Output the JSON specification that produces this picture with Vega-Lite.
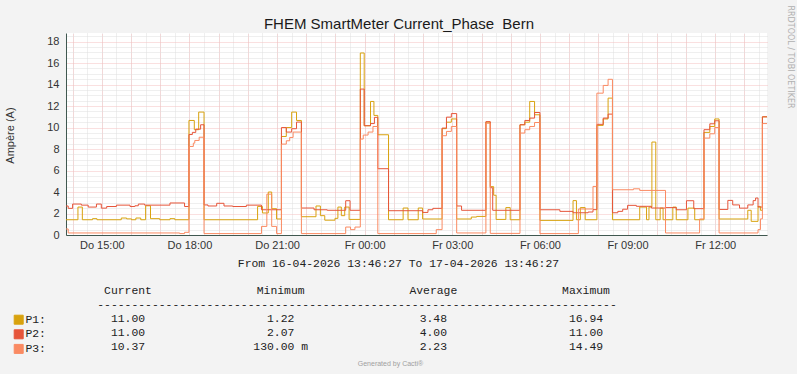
{
"$schema":"https://vega.github.io/schema/vega-lite/v6.json",
"width":701,"height":202,
"autosize":{"type":"none"},
"padding":{"left":66,"top":33,"right":30,"bottom":139},
"background":"#f3f3f3",
"config":{"view":{"fill":"#ffffff","stroke":null},"font":"Liberation Sans"},
"datasets":{
"series":[
{"t":"2026-04-16T13:46:27Z","s":"P1","v":1.42},{"t":"2026-04-16T14:11:00Z","s":"P1","v":2.6},{"t":"2026-04-16T14:20:00Z","s":"P1","v":1.42},{"t":"2026-04-16T14:41:00Z","s":"P1","v":1.52},{"t":"2026-04-16T14:50:00Z","s":"P1","v":1.42},{"t":"2026-04-16T15:40:00Z","s":"P1","v":1.58},{"t":"2026-04-16T15:51:00Z","s":"P1","v":1.5},{"t":"2026-04-16T16:01:00Z","s":"P1","v":1.42},{"t":"2026-04-16T16:10:00Z","s":"P1","v":1.58},{"t":"2026-04-16T16:20:00Z","s":"P1","v":1.42},{"t":"2026-04-16T16:30:00Z","s":"P1","v":2.72},{"t":"2026-04-16T16:40:00Z","s":"P1","v":1.52},{"t":"2026-04-16T16:59:00Z","s":"P1","v":1.42},{"t":"2026-04-16T17:20:00Z","s":"P1","v":1.52},{"t":"2026-04-16T17:30:00Z","s":"P1","v":1.42},{"t":"2026-04-16T17:59:00Z","s":"P1","v":10.66},{"t":"2026-04-16T18:10:00Z","s":"P1","v":9.8},{"t":"2026-04-16T18:19:00Z","s":"P1","v":11.44},{"t":"2026-04-16T18:30:00Z","s":"P1","v":1.42},{"t":"2026-04-16T20:20:00Z","s":"P1","v":2.66},{"t":"2026-04-16T20:30:00Z","s":"P1","v":2.05},{"t":"2026-04-16T20:42:00Z","s":"P1","v":4.0},{"t":"2026-04-16T20:49:00Z","s":"P1","v":2.45},{"t":"2026-04-16T20:59:00Z","s":"P1","v":1.49},{"t":"2026-04-16T21:09:00Z","s":"P1","v":9.17},{"t":"2026-04-16T21:19:00Z","s":"P1","v":10.0},{"t":"2026-04-16T21:30:00Z","s":"P1","v":11.44},{"t":"2026-04-16T21:40:00Z","s":"P1","v":10.66},{"t":"2026-04-16T21:50:00Z","s":"P1","v":1.7},{"t":"2026-04-16T22:20:00Z","s":"P1","v":2.7},{"t":"2026-04-16T22:29:00Z","s":"P1","v":1.8},{"t":"2026-04-16T22:38:00Z","s":"P1","v":1.38},{"t":"2026-04-16T22:59:00Z","s":"P1","v":1.55},{"t":"2026-04-16T23:05:00Z","s":"P1","v":2.6},{"t":"2026-04-16T23:12:00Z","s":"P1","v":1.8},{"t":"2026-04-16T23:19:00Z","s":"P1","v":2.6},{"t":"2026-04-16T23:28:00Z","s":"P1","v":1.45},{"t":"2026-04-16T23:51:00Z","s":"P1","v":16.94},{"t":"2026-04-16T23:59:00Z","s":"P1","v":10.17},{"t":"2026-04-17T00:12:00Z","s":"P1","v":12.43},{"t":"2026-04-17T00:19:00Z","s":"P1","v":11.13},{"t":"2026-04-17T00:27:00Z","s":"P1","v":9.33},{"t":"2026-04-17T00:49:00Z","s":"P1","v":1.42},{"t":"2026-04-17T01:19:00Z","s":"P1","v":2.51},{"t":"2026-04-17T01:29:00Z","s":"P1","v":1.42},{"t":"2026-04-17T01:50:00Z","s":"P1","v":2.51},{"t":"2026-04-17T01:59:00Z","s":"P1","v":1.49},{"t":"2026-04-17T02:39:00Z","s":"P1","v":9.9},{"t":"2026-04-17T02:48:00Z","s":"P1","v":10.5},{"t":"2026-04-17T02:58:00Z","s":"P1","v":10.8},{"t":"2026-04-17T03:09:00Z","s":"P1","v":1.49},{"t":"2026-04-17T03:39:00Z","s":"P1","v":1.67},{"t":"2026-04-17T03:50:00Z","s":"P1","v":1.73},{"t":"2026-04-17T04:09:00Z","s":"P1","v":10.5},{"t":"2026-04-17T04:18:00Z","s":"P1","v":4.5},{"t":"2026-04-17T04:25:00Z","s":"P1","v":3.7},{"t":"2026-04-17T04:30:00Z","s":"P1","v":1.45},{"t":"2026-04-17T04:50:00Z","s":"P1","v":2.55},{"t":"2026-04-17T04:59:00Z","s":"P1","v":1.42},{"t":"2026-04-17T05:19:00Z","s":"P1","v":10.26},{"t":"2026-04-17T05:29:00Z","s":"P1","v":10.5},{"t":"2026-04-17T05:39:00Z","s":"P1","v":12.43},{"t":"2026-04-17T05:49:00Z","s":"P1","v":11.19},{"t":"2026-04-17T06:00:00Z","s":"P1","v":1.36},{"t":"2026-04-17T07:08:00Z","s":"P1","v":3.2},{"t":"2026-04-17T07:15:00Z","s":"P1","v":1.42},{"t":"2026-04-17T07:23:00Z","s":"P1","v":2.55},{"t":"2026-04-17T07:33:00Z","s":"P1","v":1.42},{"t":"2026-04-17T07:57:00Z","s":"P1","v":10.2},{"t":"2026-04-17T08:10:00Z","s":"P1","v":10.8},{"t":"2026-04-17T08:20:00Z","s":"P1","v":12.74},{"t":"2026-04-17T08:29:00Z","s":"P1","v":1.42},{"t":"2026-04-17T09:25:00Z","s":"P1","v":2.6},{"t":"2026-04-17T09:39:00Z","s":"P1","v":1.42},{"t":"2026-04-17T09:44:00Z","s":"P1","v":2.6},{"t":"2026-04-17T09:50:00Z","s":"P1","v":8.65},{"t":"2026-04-17T09:58:00Z","s":"P1","v":1.42},{"t":"2026-04-17T10:07:00Z","s":"P1","v":2.5},{"t":"2026-04-17T10:13:00Z","s":"P1","v":1.42},{"t":"2026-04-17T10:33:00Z","s":"P1","v":2.6},{"t":"2026-04-17T10:40:00Z","s":"P1","v":1.42},{"t":"2026-04-17T11:04:00Z","s":"P1","v":2.5},{"t":"2026-04-17T11:18:00Z","s":"P1","v":1.42},{"t":"2026-04-17T11:37:00Z","s":"P1","v":9.55},{"t":"2026-04-17T11:49:00Z","s":"P1","v":10.1},{"t":"2026-04-17T11:59:00Z","s":"P1","v":10.8},{"t":"2026-04-17T12:08:00Z","s":"P1","v":1.49},{"t":"2026-04-17T13:07:00Z","s":"P1","v":2.3},{"t":"2026-04-17T13:14:00Z","s":"P1","v":1.27},{"t":"2026-04-17T13:28:00Z","s":"P1","v":2.66},{"t":"2026-04-17T13:33:00Z","s":"P1","v":2.3},{"t":"2026-04-17T13:37:00Z","s":"P1","v":11.0},{"t":"2026-04-17T13:46:27Z","s":"P1","v":11.0},
{"t":"2026-04-16T13:46:27Z","s":"P2","v":2.7},{"t":"2026-04-16T13:51:00Z","s":"P2","v":2.48},{"t":"2026-04-16T14:00:00Z","s":"P2","v":2.88},{"t":"2026-04-16T14:18:00Z","s":"P2","v":2.78},{"t":"2026-04-16T14:32:00Z","s":"P2","v":2.6},{"t":"2026-04-16T14:49:00Z","s":"P2","v":2.88},{"t":"2026-04-16T14:59:00Z","s":"P2","v":2.5},{"t":"2026-04-16T15:10:00Z","s":"P2","v":2.65},{"t":"2026-04-16T15:30:00Z","s":"P2","v":2.78},{"t":"2026-04-16T15:58:00Z","s":"P2","v":2.65},{"t":"2026-04-16T16:08:00Z","s":"P2","v":2.72},{"t":"2026-04-16T16:15:00Z","s":"P2","v":2.88},{"t":"2026-04-16T16:28:00Z","s":"P2","v":2.78},{"t":"2026-04-16T17:20:00Z","s":"P2","v":2.98},{"t":"2026-04-16T17:50:00Z","s":"P2","v":2.65},{"t":"2026-04-16T17:59:00Z","s":"P2","v":9.35},{"t":"2026-04-16T18:06:00Z","s":"P2","v":9.55},{"t":"2026-04-16T18:13:00Z","s":"P2","v":9.85},{"t":"2026-04-16T18:23:00Z","s":"P2","v":10.26},{"t":"2026-04-16T18:30:00Z","s":"P2","v":2.8},{"t":"2026-04-16T18:38:00Z","s":"P2","v":2.7},{"t":"2026-04-16T18:56:00Z","s":"P2","v":2.95},{"t":"2026-04-16T19:11:00Z","s":"P2","v":2.7},{"t":"2026-04-16T19:29:00Z","s":"P2","v":2.65},{"t":"2026-04-16T19:57:00Z","s":"P2","v":2.78},{"t":"2026-04-16T20:28:00Z","s":"P2","v":2.35},{"t":"2026-04-16T21:09:00Z","s":"P2","v":10.0},{"t":"2026-04-16T21:19:00Z","s":"P2","v":9.58},{"t":"2026-04-16T21:30:00Z","s":"P2","v":9.89},{"t":"2026-04-16T21:40:00Z","s":"P2","v":10.51},{"t":"2026-04-16T21:50:00Z","s":"P2","v":2.51},{"t":"2026-04-16T22:16:00Z","s":"P2","v":2.35},{"t":"2026-04-16T22:43:00Z","s":"P2","v":2.3},{"t":"2026-04-16T23:21:00Z","s":"P2","v":3.19},{"t":"2026-04-16T23:30:00Z","s":"P2","v":2.3},{"t":"2026-04-16T23:51:00Z","s":"P2","v":13.58},{"t":"2026-04-16T23:59:00Z","s":"P2","v":10.17},{"t":"2026-04-17T00:12:00Z","s":"P2","v":10.37},{"t":"2026-04-17T00:20:00Z","s":"P2","v":10.95},{"t":"2026-04-17T00:27:00Z","s":"P2","v":6.17},{"t":"2026-04-17T00:49:00Z","s":"P2","v":2.26},{"t":"2026-04-17T01:59:00Z","s":"P2","v":2.1},{"t":"2026-04-17T02:10:00Z","s":"P2","v":2.35},{"t":"2026-04-17T02:20:00Z","s":"P2","v":2.48},{"t":"2026-04-17T02:39:00Z","s":"P2","v":9.95},{"t":"2026-04-17T02:48:00Z","s":"P2","v":10.97},{"t":"2026-04-17T02:58:00Z","s":"P2","v":11.3},{"t":"2026-04-17T03:09:00Z","s":"P2","v":2.7},{"t":"2026-04-17T03:19:00Z","s":"P2","v":2.3},{"t":"2026-04-17T04:09:00Z","s":"P2","v":10.55},{"t":"2026-04-17T04:18:00Z","s":"P2","v":4.4},{"t":"2026-04-17T04:23:00Z","s":"P2","v":2.3},{"t":"2026-04-17T05:19:00Z","s":"P2","v":10.26},{"t":"2026-04-17T05:29:00Z","s":"P2","v":10.66},{"t":"2026-04-17T05:39:00Z","s":"P2","v":10.88},{"t":"2026-04-17T05:49:00Z","s":"P2","v":11.4},{"t":"2026-04-17T06:00:00Z","s":"P2","v":2.35},{"t":"2026-04-17T06:41:00Z","s":"P2","v":2.2},{"t":"2026-04-17T07:08:00Z","s":"P2","v":2.07},{"t":"2026-04-17T07:39:00Z","s":"P2","v":2.14},{"t":"2026-04-17T07:49:00Z","s":"P2","v":2.36},{"t":"2026-04-17T07:57:00Z","s":"P2","v":10.3},{"t":"2026-04-17T08:10:00Z","s":"P2","v":10.88},{"t":"2026-04-17T08:20:00Z","s":"P2","v":11.25},{"t":"2026-04-17T08:29:00Z","s":"P2","v":2.07},{"t":"2026-04-17T08:40:00Z","s":"P2","v":2.2},{"t":"2026-04-17T08:50:00Z","s":"P2","v":2.4},{"t":"2026-04-17T09:00:00Z","s":"P2","v":2.76},{"t":"2026-04-17T09:18:00Z","s":"P2","v":2.67},{"t":"2026-04-17T09:49:00Z","s":"P2","v":2.51},{"t":"2026-04-17T10:18:00Z","s":"P2","v":2.55},{"t":"2026-04-17T10:40:00Z","s":"P2","v":2.35},{"t":"2026-04-17T11:01:00Z","s":"P2","v":3.19},{"t":"2026-04-17T11:16:00Z","s":"P2","v":2.45},{"t":"2026-04-17T11:37:00Z","s":"P2","v":9.8},{"t":"2026-04-17T11:49:00Z","s":"P2","v":10.35},{"t":"2026-04-17T11:59:00Z","s":"P2","v":10.63},{"t":"2026-04-17T12:08:00Z","s":"P2","v":2.38},{"t":"2026-04-17T12:26:00Z","s":"P2","v":3.22},{"t":"2026-04-17T12:36:00Z","s":"P2","v":2.8},{"t":"2026-04-17T12:50:00Z","s":"P2","v":2.5},{"t":"2026-04-17T13:07:00Z","s":"P2","v":2.8},{"t":"2026-04-17T13:18:00Z","s":"P2","v":3.2},{"t":"2026-04-17T13:23:00Z","s":"P2","v":3.44},{"t":"2026-04-17T13:28:00Z","s":"P2","v":2.6},{"t":"2026-04-17T13:37:00Z","s":"P2","v":11.0},{"t":"2026-04-17T13:46:27Z","s":"P2","v":11.0},
{"t":"2026-04-16T13:46:27Z","s":"P3","v":0.56},{"t":"2026-04-16T13:51:00Z","s":"P3","v":0.19},{"t":"2026-04-16T17:40:00Z","s":"P3","v":0.13},{"t":"2026-04-16T17:50:00Z","s":"P3","v":0.25},{"t":"2026-04-16T17:59:00Z","s":"P3","v":8.24},{"t":"2026-04-16T18:08:00Z","s":"P3","v":8.55},{"t":"2026-04-16T18:11:00Z","s":"P3","v":8.8},{"t":"2026-04-16T18:20:00Z","s":"P3","v":9.1},{"t":"2026-04-16T18:30:00Z","s":"P3","v":0.13},{"t":"2026-04-16T20:28:00Z","s":"P3","v":0.8},{"t":"2026-04-16T20:39:00Z","s":"P3","v":3.8},{"t":"2026-04-16T20:49:00Z","s":"P3","v":0.8},{"t":"2026-04-16T20:59:00Z","s":"P3","v":0.13},{"t":"2026-04-16T21:09:00Z","s":"P3","v":8.46},{"t":"2026-04-16T21:19:00Z","s":"P3","v":8.77},{"t":"2026-04-16T21:26:00Z","s":"P3","v":9.08},{"t":"2026-04-16T21:33:00Z","s":"P3","v":9.58},{"t":"2026-04-16T21:50:00Z","s":"P3","v":0.13},{"t":"2026-04-16T23:21:00Z","s":"P3","v":0.74},{"t":"2026-04-16T23:31:00Z","s":"P3","v":0.5},{"t":"2026-04-16T23:40:00Z","s":"P3","v":0.74},{"t":"2026-04-16T23:51:00Z","s":"P3","v":8.93},{"t":"2026-04-16T23:57:00Z","s":"P3","v":9.3},{"t":"2026-04-17T00:07:00Z","s":"P3","v":9.58},{"t":"2026-04-17T00:17:00Z","s":"P3","v":10.1},{"t":"2026-04-17T00:27:00Z","s":"P3","v":0.13},{"t":"2026-04-17T02:27:00Z","s":"P3","v":0.5},{"t":"2026-04-17T02:39:00Z","s":"P3","v":9.24},{"t":"2026-04-17T02:48:00Z","s":"P3","v":9.64},{"t":"2026-04-17T02:58:00Z","s":"P3","v":10.1},{"t":"2026-04-17T03:09:00Z","s":"P3","v":0.19},{"t":"2026-04-17T04:09:00Z","s":"P3","v":10.4},{"t":"2026-04-17T04:18:00Z","s":"P3","v":0.15},{"t":"2026-04-17T05:19:00Z","s":"P3","v":9.49},{"t":"2026-04-17T05:29:00Z","s":"P3","v":9.8},{"t":"2026-04-17T05:39:00Z","s":"P3","v":10.1},{"t":"2026-04-17T05:49:00Z","s":"P3","v":10.47},{"t":"2026-04-17T06:00:00Z","s":"P3","v":0.13},{"t":"2026-04-17T07:19:00Z","s":"P3","v":2.42},{"t":"2026-04-17T07:49:00Z","s":"P3","v":4.52},{"t":"2026-04-17T07:57:00Z","s":"P3","v":13.2},{"t":"2026-04-17T08:10:00Z","s":"P3","v":13.92},{"t":"2026-04-17T08:20:00Z","s":"P3","v":14.49},{"t":"2026-04-17T08:29:00Z","s":"P3","v":4.21},{"t":"2026-04-17T09:12:00Z","s":"P3","v":4.3},{"t":"2026-04-17T09:25:00Z","s":"P3","v":4.15},{"t":"2026-04-17T10:18:00Z","s":"P3","v":0.19},{"t":"2026-04-17T11:28:00Z","s":"P3","v":1.49},{"t":"2026-04-17T11:37:00Z","s":"P3","v":9.02},{"t":"2026-04-17T11:49:00Z","s":"P3","v":9.42},{"t":"2026-04-17T11:59:00Z","s":"P3","v":10.0},{"t":"2026-04-17T12:08:00Z","s":"P3","v":0.19},{"t":"2026-04-17T13:28:00Z","s":"P3","v":0.5},{"t":"2026-04-17T13:33:00Z","s":"P3","v":1.5},{"t":"2026-04-17T13:37:00Z","s":"P3","v":10.37},{"t":"2026-04-17T13:46:27Z","s":"P3","v":10.37}
],
"table":[
{"row":"head","col":"Current","txt":"Current"},{"row":"head","col":"Minimum","txt":"Minimum"},{"row":"head","col":"Average","txt":"Average"},{"row":"head","col":"Maximum","txt":"Maximum"},
{"row":"rule","col":"rule","txt":"----------------------------------------------------------------------------"},
{"row":"P1","col":"Current","txt":"11.00"},{"row":"P1","col":"Minimum","txt":"1.22"},{"row":"P1","col":"Average","txt":"3.48"},{"row":"P1","col":"Maximum","txt":"16.94"},
{"row":"P2","col":"Current","txt":"11.00"},{"row":"P2","col":"Minimum","txt":"2.07"},{"row":"P2","col":"Average","txt":"4.00"},{"row":"P2","col":"Maximum","txt":"11.00"},
{"row":"P3","col":"Current","txt":"10.37"},{"row":"P3","col":"Minimum","txt":"130.00 m"},{"row":"P3","col":"Average","txt":"2.23"},{"row":"P3","col":"Maximum","txt":"14.49"}
]
},
"layer":[
{
"data":{"name":"series"},
"resolve":{"axis":{"x":"independent","y":"independent"}},
"layer":[
{
"mark":{"type":"square","opacity":0,"stroke":"#333333","strokeWidth":1},
"encoding":{
"x":{"field":"t","type":"temporal","scale":{"type":"utc","nice":false,"domain":[{"year":2026,"month":4,"date":16,"hours":13,"minutes":46,"seconds":27,"utc":true},{"year":2026,"month":4,"date":17,"hours":13,"minutes":46,"seconds":27,"utc":true}]},
"axis":{"orient":"bottom","tickCount":{"interval":"minutes","step":30},"grid":true,"gridColor":"#dedede","gridDash":[1,1],"gridWidth":1,"labels":false,"ticks":false,"domain":false,
"title":"From 16-04-2026 13:46:27 To 17-04-2026 13:46:27","titleFont":"Liberation Mono","titleFontSize":11.4,"titleFontWeight":"normal","titleColor":"#222222","titleX":332,"titleY":28,"titleAlign":"center","titleBaseline":"middle"}},
"y":{"field":"v","type":"quantitative","scale":{"domain":[0,18.8],"nice":false},
"axis":{"orient":"left","values":[0.5,1,1.5,2.5,3,3.5,4.5,5,5.5,6.5,7,7.5,8.5,9,9.5,10.5,11,11.5,12.5,13,13.5,14.5,15,15.5,16.5,17,17.5,18.5],"grid":true,"gridColor":"#dedede","gridDash":[1,1],"labels":false,"ticks":false,"domain":false,"title":null}},
"fill":{"field":"s","type":"nominal","scale":{"domain":["P1","P2","P3"],"range":["#d8a20e","#e6553a","#fa8a62"]},
"legend":{"orient":"none","legendX":-53,"legendY":281,"title":null,"direction":"vertical","symbolType":"square","symbolSize":81,"symbolOpacity":1,"symbolStrokeColor":"#333333","symbolStrokeWidth":1,"labelFont":"Liberation Mono","labelFontSize":11.4,"labelColor":"#222222","labelOffset":1,"rowPadding":0.6,"padding":0,"labelExpr":"datum.label + ':'"}}
}
},
{
"mark":{"type":"point","opacity":0},
"encoding":{
"x":{"field":"t","type":"temporal","scale":{"type":"utc","nice":false,"domain":[{"year":2026,"month":4,"date":16,"hours":13,"minutes":46,"seconds":27,"utc":true},{"year":2026,"month":4,"date":17,"hours":13,"minutes":46,"seconds":27,"utc":true}]},
"axis":{"orient":"top","tickCount":{"interval":"hours","step":1},"grid":true,"gridColor":"#f4c0c0","gridDash":[1,1],"gridWidth":1,"labels":false,"ticks":false,"domain":false,
"title":"FHEM SmartMeter Current_Phase\u00a0 Bern","titleFont":"Liberation Sans","titleFontSize":15,"titleFontWeight":"normal","titleColor":"#1a1a1a","titleX":332.5,"titleY":-5,"titleAlign":"center","titleBaseline":"alphabetic"}},
"y":{"field":"v","type":"quantitative","scale":{"domain":[0,18.8],"nice":false},"axis":null}
}
},
{
"mark":{"type":"line","interpolate":"step-after","strokeWidth":1},
"encoding":{
"x":{"field":"t","type":"temporal","scale":{"type":"utc","nice":false,"domain":[{"year":2026,"month":4,"date":16,"hours":13,"minutes":46,"seconds":27,"utc":true},{"year":2026,"month":4,"date":17,"hours":13,"minutes":46,"seconds":27,"utc":true}]},
"axis":{"orient":"bottom","tickCount":{"interval":"hours","step":3},"labelExpr":"(utcFormat(datum.value, '%d') == '16' ? 'Do ' : 'Fr ') + utcFormat(datum.value, '%H:%M')","grid":false,"ticks":false,"domain":true,"domainColor":"#405850","domainWidth":1,"labelFont":"Liberation Sans","labelFontSize":11,"labelColor":"#333333","labelPadding":4,"labelFlush":false,"labelOverlap":false,"title":null}},
"y":{"field":"v","type":"quantitative","scale":{"domain":[0,18.8],"nice":false},
"axis":{"orient":"left","values":[0,2,4,6,8,10,12,14,16,18],"grid":true,"gridColor":"#f4c0c0","gridDash":[1,1],"ticks":false,"domain":true,"domainColor":"#405850","labelFont":"Liberation Sans","labelFontSize":11,"labelColor":"#333333","labelPadding":7,
"title":"Ampère (A)","titleFont":"Liberation Sans","titleFontSize":11,"titleFontWeight":"normal","titleColor":"#333333","titleX":-56,"titleY":102,"titleAngle":-90,"titleAlign":"center","titleBaseline":"middle"}},
"stroke":{"field":"s","type":"nominal","scale":{"domain":["P1","P2","P3"],"range":["#d8a20e","#e6553a","#fa8a62"]},"legend":null}
}
}
]
},
{
"data":{"name":"table"},
"mark":{"type":"text","font":"Liberation Mono","fontSize":11.4,"color":"#222222","align":"center","baseline":"middle"},
"encoding":{
"x":{"field":"col","type":"nominal","scale":{"type":"point","domain":["Current","c1","Minimum","rule","Average","c2","Maximum"],"range":[62,520],"padding":0},
"axis":{"orient":"bottom","title":"Generated by Cacti®","labels":false,"ticks":false,"domain":false,"grid":false,"titleFont":"Liberation Sans","titleFontSize":7,"titleFontWeight":"normal","titleColor":"#a0a0a0","titleX":324,"titleY":128,"titleAlign":"center","titleBaseline":"middle"}},
"y":{"field":"row","type":"nominal","scale":{"type":"point","domain":["head","rule","P1","P2","P3"],"range":[257.7,313.7],"padding":0},
"axis":{"orient":"right","title":"RRDTOOL / TOBI OETIKER","labels":false,"ticks":false,"domain":false,"grid":false,"titleFont":"DejaVu Sans","titleFontSize":8,"titleFontWeight":"normal","titleColor":"#b0b0b0","titleAngle":90,"titleX":22,"titleY":23.5,"titleAlign":"center","titleBaseline":"middle"}},
"text":{"field":"txt"}
}
}
],
"resolve":{"scale":{"x":"independent","y":"independent"},"axis":{"x":"independent","y":"independent"}}
}
